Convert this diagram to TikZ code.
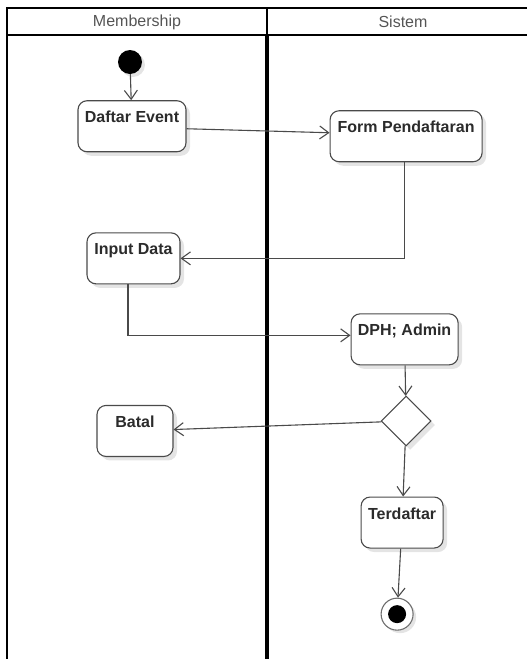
\documentclass[tikz,border=0pt]{standalone}
\usepackage{fontspec}
\setmainfont{Liberation Sans}
\usepackage{tikz}
\usetikzlibrary{shapes.geometric, arrows.meta, positioning, shadows}
\definecolor{edgegray}{HTML}{4A4A4A}
\definecolor{textgray}{HTML}{2B2B2B}
\definecolor{titlegray}{HTML}{555555}
\tikzstyle{activity} = [rectangle, rounded corners=9pt, minimum height=51pt, inner xsep=6pt, inner ysep=9pt, text height=13pt, text depth=20pt, font=\bfseries\fontsize{16}{18}\selectfont, text=textgray, draw=edgegray, line width=1.1pt, fill=white, drop shadow={shadow xshift=4pt, shadow yshift=-4pt, fill=black!30, opacity=.35}]
\tikzstyle{decision} = [diamond, minimum width=50pt, minimum height=50pt, inner sep=0pt, draw=edgegray, line width=1.1pt, fill=white, drop shadow={shadow xshift=4pt, shadow yshift=-4pt, fill=black!30, opacity=.35}]
\tikzstyle{startstate} = [circle, minimum size=24pt, inner sep=0pt, fill=black, drop shadow={shadow xshift=3pt, shadow yshift=-3pt, fill=black!30, opacity=.35}]
\tikzstyle{endstate} = [circle, minimum size=32pt, inner sep=0pt, draw=edgegray!80, line width=1.1pt, fill=white, path picture={\fill[black] (path picture bounding box.center) circle (9pt);}, drop shadow={shadow xshift=3pt, shadow yshift=-3pt, fill=black!30, opacity=.35}]
\tikzstyle{lanetitle} = [font=\fontsize{16}{18}\selectfont, text=titlegray]
\tikzstyle{arrow} = [line width=1.1pt, draw=edgegray, ->, >={Straight Barb[length=9pt, width=13pt]}]

\begin{document}
\begin{tikzpicture}[node distance=30pt]
    \useasboundingbox (0,0) rectangle (527pt,-659pt);
    % Swimlanes
    \draw[line width=2.5pt] (7pt,-659pt) -- (7pt,-8pt) -- (527pt,-8pt);
    \draw[line width=2.5pt] (7pt,-35pt) -- (527pt,-35pt);
    \draw[line width=2.5pt] (267pt,-8pt) -- (267pt,-35pt);
    \draw[line width=3.5pt] (267pt,-35pt) -- (267pt,-659pt);
    \node[lanetitle] (membership) at (137pt,-22pt) {Membership};
    \node[lanetitle] (sistem) at (403pt,-22pt) {Sistem};

    % Membership / Sistem activities
    \node[startstate] (start) at (130pt,-62pt) {};
    \node[activity, minimum width=108pt, below=26pt of start, xshift=2pt] (daftar) {Daftar Event};
    \node[activity, minimum width=152pt, right=143pt of daftar, yshift=-10pt] (form) {Form Pendaftaran};
    \node[activity, minimum width=93pt, below=80pt of daftar, xshift=1.5pt] (input) {Input Data};
    \node[activity, minimum width=107pt, below=151pt of form, xshift=-1.5pt] (dph) {DPH; Admin};

    % Decision
    \node[decision, below=30pt of dph, xshift=1.5pt] (cek) {};
    \node[activity, minimum width=76pt, left=207pt of cek, yshift=-10pt] (batal) {Batal};
    \node[activity, minimum width=82pt, below=50pt of cek, xshift=-4pt] (terdaftar) {Terdaftar};
    \node[endstate, below=49pt of terdaftar, xshift=-5pt] (end) {};

    % Connections
    \draw[arrow] (start) -- (daftar);
    \draw[arrow] ([yshift=-2.5pt]daftar.east) -- ([yshift=3.5pt]form.west);
    \draw[arrow] ([xshift=-2pt]form.south) |- (input.east);
    \draw[arrow] ([xshift=-5.5pt]input.south) |- ([yshift=4pt]dph.west);
    \draw[arrow] (dph) -- (cek);
    \draw[arrow] (cek) -- (batal);
    \draw[arrow] (cek) -- (terdaftar);
    \draw[arrow] (terdaftar) -- (end);

\end{tikzpicture}
\end{document}
